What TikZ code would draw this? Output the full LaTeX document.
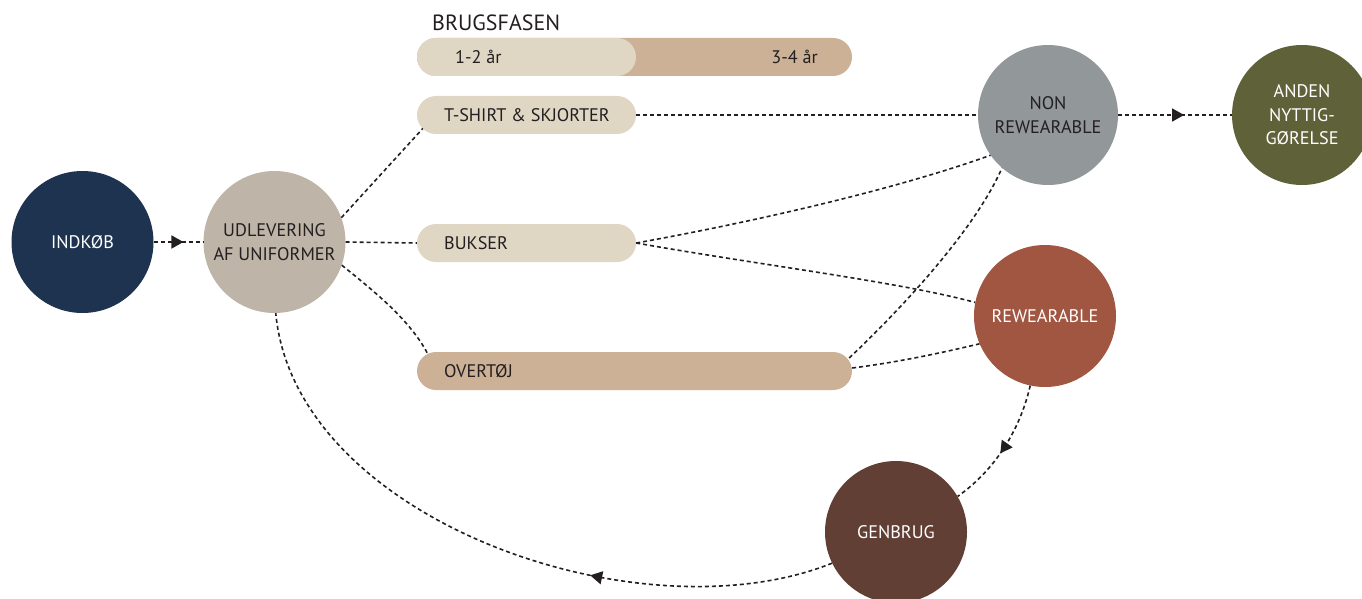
\documentclass[tikz,border=0pt]{standalone}
\usepackage{fontspec}
\setmainfont{PT Sans}
\usetikzlibrary{arrows.meta,decorations.markings,calc}

\definecolor{linecol}{HTML}{231F20}
\definecolor{textcol}{HTML}{231F20}
\definecolor{navy}{HTML}{1E3350}
\definecolor{greige}{HTML}{BFB4A8}
\definecolor{sand}{HTML}{DFD6C4}
\definecolor{tan}{HTML}{CCB196}
\definecolor{slate}{HTML}{92979A}
\definecolor{olive}{HTML}{5F6139}
\definecolor{rust}{HTML}{A05641}
\definecolor{cocoa}{HTML}{623F34}

\newcommand{\bodyfont}{\fontsize{18.2pt}{23.5pt}\selectfont}
\newcommand{\titlefont}{\fontsize{22pt}{26pt}\selectfont}

\tikzset{
  flow/.style={draw=linecol, color=linecol, line width=1.6pt, dash pattern=on 4pt off 3pt},
  midarrow/.style={postaction={decorate},
    decoration={markings, mark=at position #1 with {\arrow{Triangle[length=12pt,width=13pt]}}}},
  stage/.style={circle, minimum size=142pt, inner sep=0pt, align=center, font=\bodyfont},
  pill/.style={rectangle, rounded corners=19pt, minimum height=38pt, inner sep=0pt},
  lbl/.style={anchor=base west, inner sep=0pt, text=textcol, font=\bodyfont},
}

\begin{document}
\begin{tikzpicture}[x=1pt,y=1pt]
\useasboundingbox (0,0) rectangle (1362,-599);

% life-cycle stages
\node[stage, fill=navy, text=white] (indkob) at (82.5,-242) {INDKØB};
\node[stage, fill=greige, text=textcol] (udlev) at (274.5,-242) {UDLEVERING\\AF UNIFORMER};
\node[stage, fill=slate, text=textcol, minimum size=140pt] (nonrew) at (1048,-115) {NON\\REWEARABLE};
\node[stage, fill=olive, text=white, minimum size=140pt] (anden) at (1302,-115) {ANDEN\\NYTTIG-\\GØRELSE};
\node[stage, fill=rust, text=white] (rew) at (1045,-316) {REWEARABLE};
\node[stage, fill=cocoa, text=white] (genbrug) at (896,-532) {GENBRUG};

% use-phase timeline
\node[lbl, font=\titlefont] (title) at (432,-30.5) {BRUGSFASEN};
\node[pill, fill=tan, minimum width=435pt] (long) at (634.5,-57) {};
\node[pill, fill=sand, minimum width=219pt] (short) at (526.5,-57) {};
\node[lbl] (yrs1) at (455,-63.5) {1-2 år};
\node[lbl, anchor=base east] (yrs2) at (818,-63.5) {3-4 år};

% garment groups
\node[pill, fill=sand, minimum width=219pt] (tshirt) at (526.5,-115) {};
\node[lbl] at (444,-121.5) {T-SHIRT \& SKJORTER};
\node[pill, fill=sand, minimum width=219pt] (buks) at (526.5,-243) {};
\node[lbl] at (444,-249.5) {BUKSER};
\node[pill, fill=tan, minimum width=435pt] (overtoj) at (634.5,-371) {};
\node[lbl] at (444,-377.5) {OVERTØJ};

% connectors
\draw[flow, midarrow=0.6] (indkob.east) -- (udlev.west);
\draw[flow] (udlev.20) -- ($(tshirt.west)+(6,-13.5)$);
\draw[flow] (udlev.east) -- (buks.west);
\draw[flow] (udlev.-19) .. controls (375,-292) and (410,-320) .. ($(overtoj.west)+(11,17)$);
\draw[flow] (tshirt.east) -- (nonrew.west);
\draw[flow, midarrow=0.58] (nonrew.east) -- (anden.west);
\draw[flow] (buks.east) .. controls (720,-228) and (880,-195) .. (nonrew.215);
\draw[flow] (buks.east) .. controls (760,-265) and (900,-282) .. (rew.169);
\draw[flow] ($(overtoj.east)+(-3,13)$) .. controls (900,-310) and (975,-230) .. (nonrew.229);
\draw[flow] ($(overtoj.east)+(0,3)$) .. controls (900,-362) and (945,-352) .. (rew.203);
\draw[flow, midarrow=0.55] (rew.258) .. controls (1020,-430) and (995,-470) .. (genbrug.30);
\draw[flow, midarrow=0.36] (genbrug.206) .. controls (640,-640) and (295,-520) .. (udlev.-89);
\end{tikzpicture}
\end{document}
